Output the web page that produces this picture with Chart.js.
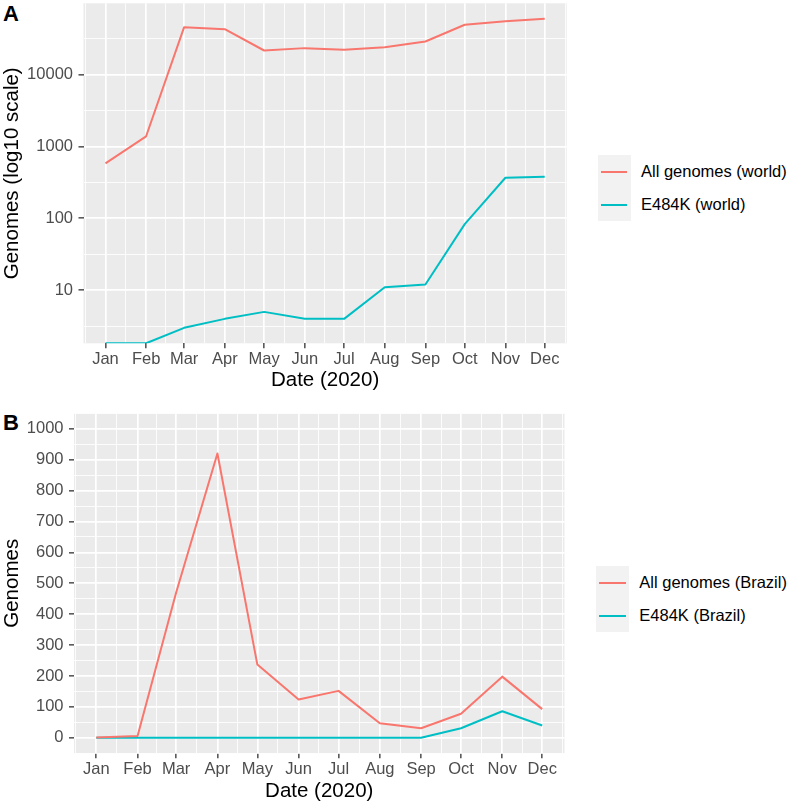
<!DOCTYPE html>
<html>
<head>
<meta charset="utf-8">
<script src="https://cdn.jsdelivr.net/npm/chart.js@4.4.0/dist/chart.umd.min.js"></script>
<style>
  body { margin: 0; background: #fff; font-family: "Liberation Sans", Arial, sans-serif; }
  #wrap { position: relative; width: 790px; height: 805px; overflow: hidden; }
  canvas { position: absolute; left: 0; }
  .tag { position: absolute; left: 3px; font-weight: bold; font-size: 22px; line-height: 22px; }
  .legend { position: absolute; }
  .row { display: flex; align-items: center; height: 33px; }
  .key { width: 33px; height: 33px; background: #F2F2F2; position: relative; }
  .key span { position: absolute; left: 3.3px; right: 3.3px; top: 15.5px; height: 2px; }
  .lab { margin-left: 10.3px; font-size: 16.5px; color: #000; white-space: nowrap; }
</style>
</head>
<body>
<div id="wrap">
  <div class="tag" style="top:3px">A</div>
  <div class="tag" style="top:411.5px">B</div>
  <canvas id="chartA" width="580" height="405" style="top:0"></canvas>
  <canvas id="chartB" width="580" height="400" style="top:405px"></canvas>
  <div class="legend" id="legendA" style="left:597.7px; top:155px"></div>
  <div class="legend" id="legendB" style="left:596px; top:566px"></div>
</div>
<script>
const months = ['Jan', 'Feb', 'Mar', 'Apr', 'May', 'Jun', 'Jul', 'Aug', 'Sep', 'Oct', 'Nov', 'Dec'];

// panel A, world (log scale). 0 = no genomes, drawn on the panel floor
const allWorld = [580, 1380, 45400, 42500, 21500, 23200, 22000, 23900, 28700, 49000, 55000, 59400];
const e484kWorld = [0, 0, 3, 4, 5, 4, 4, 11, 12, 83, 366, 378];

// panel B, Brazil
const allBrazil = [1, 6, 470, 920, 237, 124, 152, 47, 31, 78, 198, 93];
const e484kBrazil = [0, 0, 0, 0, 0, 0, 0, 0, 0, 31, 86, 40];

const worldNames = ['All genomes (world)', 'E484K (world)'];
const brazilNames = ['All genomes (Brazil)', 'E484K (Brazil)'];
const worldTicks = [10, 100, 1000, 10000];
const brazilTicks = [0, 100, 200, 300, 400, 500, 600, 700, 800, 900, 1000];
const colors = ['#F8766D', '#00BFC4'];

const FONT = "'Liberation Sans', Arial, sans-serif";
Chart.defaults.font.family = FONT;

// x positions are days since 1 Jan 2020
const dayOf = m => (Date.UTC(2020, m, 1) - Date.UTC(2020, 0, 1)) / 86400000;
const monthX = months.map((_, i) => dayOf(i));
const xPad = 0.05 * (monthX[monthX.length - 1] - monthX[0]);
const xMin = monthX[0] - xPad, xMax = monthX[monthX.length - 1] + xPad;
const xExt = [dayOf(-1), ...monthX, dayOf(12)];
const xMinor = xExt.slice(1).map((v, i) => (v + xExt[i]) / 2).filter(v => v >= xMin && v <= xMax);

const panelBg = {
  id: 'panelBg',
  beforeDraw(chart) {
    const a = chart.chartArea, ctx = chart.ctx;
    ctx.save();
    ctx.fillStyle = '#EBEBEB';
    ctx.fillRect(a.left, a.top, a.right - a.left, a.bottom - a.top);
    ctx.restore();
  }
};

function gridOpts() {
  return {
    color: '#FFFFFF',
    lineWidth: c => (c.tick && c.tick.major ? 1.7 : 0.85),
    drawTicks: true,
    tickLength: 5,
    tickWidth: 1.3,
    tickColor: c => (c.tick && c.tick.major ? '#333333' : 'rgba(0,0,0,0)')
  };
}

function xScale(height, titleBottom) {
  return {
    type: 'linear', min: xMin, max: xMax, bounds: 'data',
    afterBuildTicks: s => {
      const t = monthX.map(v => ({ value: v, major: true }))
        .concat(xMinor.map(v => ({ value: v, major: false })));
      s.ticks = t.sort((a, b) => a.value - b.value);
    },
    afterFit: s => {
      s.height = height;
      s.paddingLeft = s.paddingRight = 0;
    },
    ticks: {
      autoSkip: false, maxRotation: 0, minRotation: 0, padding: 1.5,
      color: '#4D4D4D', font: { size: 16.5 },
      callback: v => { const k = monthX.indexOf(v); return k >= 0 ? months[k] : ''; }
    },
    grid: gridOpts(),
    border: { display: false },
    title: { display: true, text: 'Date (2020)', color: '#000', font: { size: 20.5 },
             padding: { top: 0, bottom: titleBottom } }
  };
}

function yScale(opts) {
  return {
    type: opts.type, min: opts.min, max: opts.max, bounds: 'data',
    afterBuildTicks: s => {
      const t = opts.major.map(v => ({ value: v, major: true }))
        .concat(opts.minor.map(v => ({ value: v, major: false })));
      s.ticks = t.sort((a, b) => a.value - b.value);
    },
    afterFit: s => {
      s.width = opts.width;
      s.paddingTop = s.paddingBottom = 0;
    },
    ticks: {
      autoSkip: false, padding: 5.5, color: '#4D4D4D', font: { size: 16.5 },
      callback: v => (opts.major.indexOf(v) >= 0 ? String(v) : '')
    },
    grid: gridOpts(),
    border: { display: false },
    title: { display: true, text: opts.title, color: '#000', font: { size: 20.5 },
             padding: { top: 0, bottom: 0 } }
  };
}

function lineSet(label, vals, color, floor) {
  return {
    label: label,
    data: monthX.map((x, i) => ({ x: x, y: (floor !== undefined && vals[i] === 0) ? floor : vals[i] })),
    borderColor: color,
    borderWidth: 2,
    pointRadius: 0,
    tension: 0,
    borderJoinStyle: 'round',
    fill: false
  };
}

function makeLegend(id, names) {
  document.getElementById(id).innerHTML = names.map((n, i) =>
    '<div class="row"><div class="key"><span style="background:' + colors[i] + '"></span></div>' +
    '<div class="lab">' + n + '</div></div>').join('');
}

// panel A limits: data range in log10, expanded by 5%
const posWorld = allWorld.concat(e484kWorld).filter(v => v > 0);
const lo = Math.log10(Math.min(...posWorld)), hi = Math.log10(Math.max(...posWorld));
const yMinA = Math.pow(10, lo - 0.05 * (hi - lo));
const yMaxA = Math.pow(10, hi + 0.05 * (hi - lo));
const decA = [worldTicks[0] / 10, ...worldTicks, worldTicks[worldTicks.length - 1] * 10];
const minorA = decA.slice(1).map((v, i) => Math.sqrt(v * decA[i])).filter(v => v >= yMinA && v <= yMaxA);

new Chart(document.getElementById('chartA'), {
  type: 'line',
  data: {
    datasets: [
      lineSet(worldNames[0], allWorld, colors[0], yMinA),
      lineSet(worldNames[1], e484kWorld, colors[1], yMinA)
    ]
  },
  options: {
    responsive: false, animation: false, events: [],
    layout: { padding: { top: 3.3, left: 0, right: 13.3, bottom: 0 } },
    plugins: { legend: { display: false }, tooltip: { enabled: false } },
    scales: {
      x: xScale(61.7, 11.9),
      y: yScale({ type: 'logarithmic', min: yMinA, max: yMaxA, major: worldTicks, minor: minorA,
                  width: 83.5, title: 'Genomes (log10 scale)' })
    }
  },
  plugins: [panelBg]
});

// panel B limits: 0..1000 expanded by 5%
const spanB = brazilTicks[brazilTicks.length - 1] - brazilTicks[0];
const yMinB = brazilTicks[0] - 0.05 * spanB, yMaxB = brazilTicks[brazilTicks.length - 1] + 0.05 * spanB;
const stepB = brazilTicks[1] - brazilTicks[0];
const extB = [brazilTicks[0] - stepB, ...brazilTicks, brazilTicks[brazilTicks.length - 1] + stepB];
const minorB = extB.slice(1).map((v, i) => (v + extB[i]) / 2).filter(v => v >= yMinB && v <= yMaxB);

new Chart(document.getElementById('chartB'), {
  type: 'line',
  data: {
    datasets: [
      lineSet(brazilNames[0], allBrazil, colors[0]),
      lineSet(brazilNames[1], e484kBrazil, colors[1])
    ]
  },
  options: {
    responsive: false, animation: false, events: [],
    layout: { padding: { top: 8.3, left: 0, right: 15.5, bottom: 0 } },
    plugins: { legend: { display: false }, tooltip: { enabled: false } },
    scales: {
      x: xScale(51.7, 0.9),
      y: yScale({ type: 'linear', min: yMinB, max: yMaxB, major: brazilTicks, minor: minorB,
                  width: 74, title: 'Genomes' })
    }
  },
  plugins: [panelBg]
});

makeLegend('legendA', worldNames);
makeLegend('legendB', brazilNames);
</script>
</body>
</html>
